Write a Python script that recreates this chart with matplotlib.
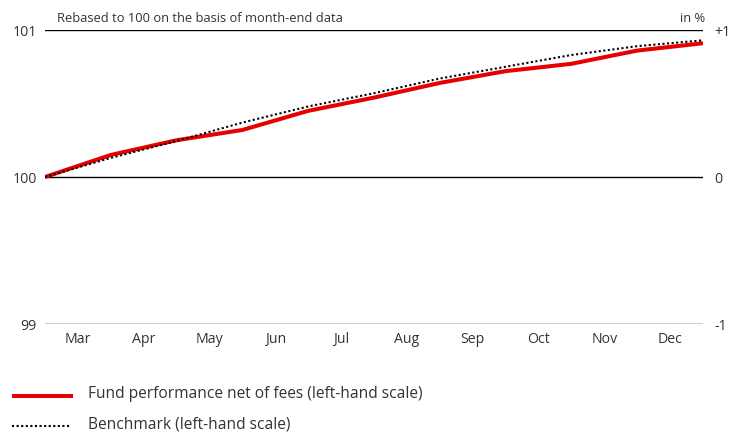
import matplotlib
matplotlib.use("Agg")
import matplotlib.pyplot as plt
from matplotlib.lines import Line2D

plt.rcParams['font.family'] = ['Open Sans', 'DejaVu Sans']

months = ["Mar", "Apr", "May", "Jun", "Jul", "Aug", "Sep", "Oct", "Nov", "Dec"]
fund = [100.0, 100.15, 100.25, 100.32, 100.45, 100.54, 100.64, 100.72, 100.77, 100.86, 100.91]
benchmark = [100.0, 100.13, 100.245, 100.37, 100.48, 100.57, 100.67, 100.75, 100.83, 100.89, 100.93]
left_ticks = [99, 100, 101]
right_labels = ["-1", "0", "+1"]

fig = plt.figure(figsize=(7.37, 4.35), dpi=100)
ax = fig.add_axes([45/737, 1-325/435, 658/737, 294/435])
x = list(range(len(fund)))
txt = '#333333'

for v in left_ticks:
    ax.axhline(v, color='black', lw=1.0, zorder=1)
ax.plot(x, fund, color='#e60000', lw=2.9, solid_capstyle='butt', solid_joinstyle='round', zorder=3)
ax.plot(x, benchmark, color='black', lw=1.5, linestyle=(0, (1, 1.2)), zorder=4)

ax.set_xlim(0, 10)
ax.set_ylim(99, 101)
for s in ax.spines.values():
    s.set_visible(False)
ax.set_xticks([i + 0.5 for i in range(len(months))])
ax.set_xticklabels(months, fontsize=10.2, color=txt)
ax.set_yticks(left_ticks)
ax.set_yticklabels([str(v) for v in left_ticks], fontsize=10.2, color=txt)
ax.tick_params(axis='both', length=0)
ax.tick_params(axis='x', pad=5)
ax.tick_params(axis='y', pad=6)

ax2 = ax.twinx()
ax2.set_ylim(-1, 1)
ax2.set_yticks([-1, 0, 1])
ax2.set_yticklabels(right_labels, fontsize=10.2, color=txt)
ax2.tick_params(axis='y', length=0, pad=8)
for s in ax2.spines.values():
    s.set_visible(False)

fig.text(57/737, 1-18/435, "Rebased to 100 on the basis of month-end data", fontsize=9.3, color=txt, va='center', ha='left')
fig.text(705/737, 1-18/435, "in %", fontsize=9.3, color=txt, va='center', ha='right')

# legend
fig.add_artist(Line2D([12/737, 73/737], [1-397/435, 1-397/435], color='#e60000', lw=2.9, solid_capstyle='butt'))
fig.add_artist(Line2D([12/737, 70/737], [1-427/435, 1-427/435], color='black', lw=1.5, linestyle=(0, (1, 1.2))))
fig.text(88/737, 1-394/435, "Fund performance net of fees (left-hand scale)", fontsize=11.2, color=txt, va='center', ha='left')
fig.text(88/737, 1-425/435, "Benchmark (left-hand scale)", fontsize=11.2, color=txt, va='center', ha='left')

fig.savefig("out.png", dpi=100)
